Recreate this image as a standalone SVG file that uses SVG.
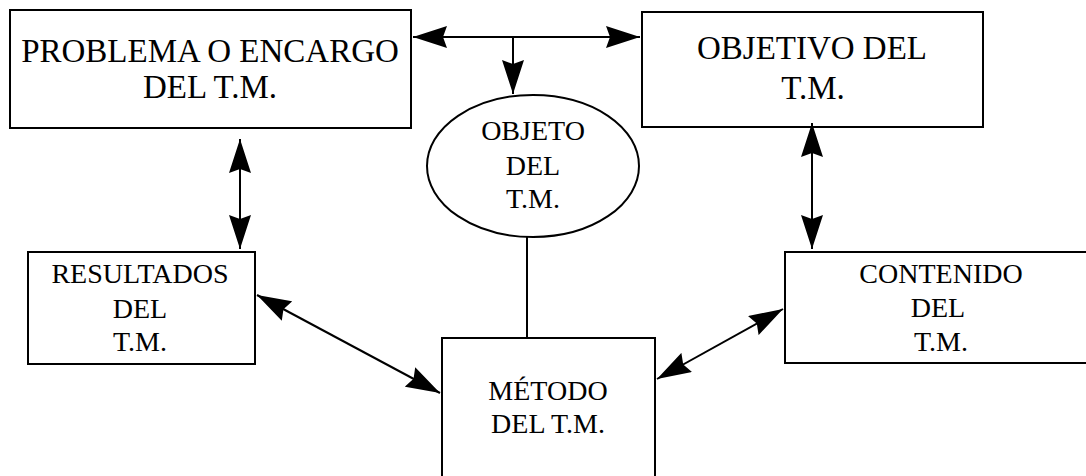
<svg xmlns="http://www.w3.org/2000/svg" width="1086" height="476" viewBox="0 0 1086 476">
<style>
.box{fill:#fff;stroke:#000;stroke-width:2}
.t33{font-family:"Liberation Serif","Times New Roman",serif;font-size:33px;fill:#000;text-anchor:middle}
.t28{font-family:"Liberation Serif","Times New Roman",serif;font-size:28px;fill:#000;text-anchor:middle}
.ln{stroke:#000;stroke-width:2;fill:none}
</style>
<defs>
<marker id="ah" viewBox="0 0 34 22" refX="34" refY="11" markerWidth="34" markerHeight="22" markerUnits="userSpaceOnUse" orient="auto-start-reverse">
<path d="M0,0 L34,11 L0,22 L4,11 Z" fill="#000"/>
</marker>
</defs>
<rect width="1086" height="476" fill="#fff"/>
<g id="problema">
<rect class="box" x="10" y="10" width="401" height="118"/>
<text class="t33" x="210" y="62">PROBLEMA O ENCARGO</text>
<text class="t33" x="210" y="98">DEL T.M.</text>
</g>
<g id="objetivo">
<rect class="box" x="642" y="12" width="341" height="115"/>
<text class="t33" x="812" y="59">OBJETIVO DEL</text>
<text class="t33" x="813" y="99">T.M.</text>
</g>
<g id="objeto">
<ellipse class="box" cx="533" cy="166" rx="106" ry="71"/>
<text class="t28" x="533" y="140">OBJETO</text>
<text class="t28" x="533" y="175">DEL</text>
<text class="t28" x="533" y="208">T.M.</text>
</g>
<g id="resultados">
<rect class="box" x="28" y="252" width="227" height="112"/>
<text class="t28" x="140" y="283">RESULTADOS</text>
<text class="t28" x="140" y="318">DEL</text>
<text class="t28" x="140" y="351">T.M.</text>
</g>
<g id="contenido">
<rect class="box" x="785" y="252" width="310" height="111"/>
<text class="t28" x="941" y="283">CONTENIDO</text>
<text class="t28" x="938" y="317">DEL</text>
<text class="t28" x="941" y="351">T.M.</text>
</g>
<g id="metodo">
<rect class="box" x="442" y="338" width="213" height="150"/>
<text class="t28" x="548" y="400">MÉTODO</text>
<text class="t28" x="548" y="433">DEL T.M.</text>
</g>
<g id="connectors">
<line class="ln" x1="413" y1="37" x2="640" y2="37" marker-start="url(#ah)" marker-end="url(#ah)"/>
<line class="ln" x1="513" y1="37" x2="513" y2="94" marker-end="url(#ah)"/>
<line class="ln" x1="240" y1="139" x2="240" y2="249" marker-start="url(#ah)" marker-end="url(#ah)"/>
<line class="ln" x1="812" y1="123" x2="812" y2="249" marker-start="url(#ah)" marker-end="url(#ah)"/>
<line class="ln" x1="257" y1="295" x2="440" y2="393" marker-start="url(#ah)" marker-end="url(#ah)"/>
<line class="ln" x1="657" y1="379" x2="783" y2="309" marker-start="url(#ah)" marker-end="url(#ah)"/>
<line class="ln" x1="527" y1="237" x2="527" y2="338"/>
</g>
</svg>
